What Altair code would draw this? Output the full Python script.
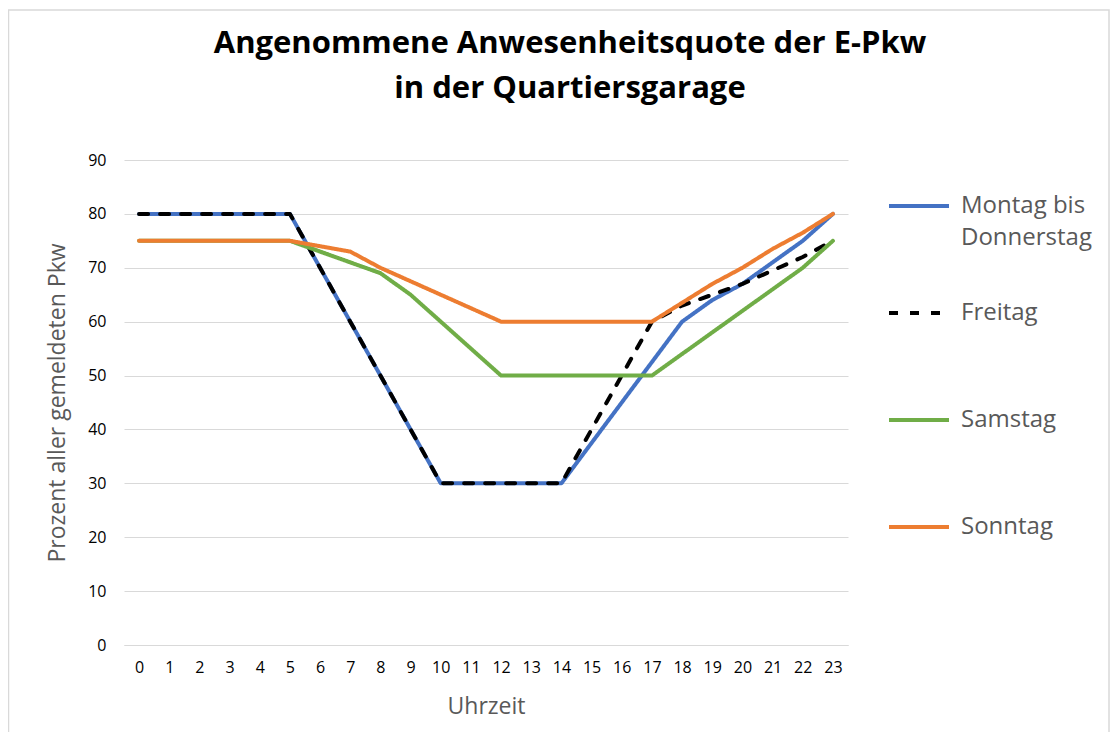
import altair as alt
import pandas as pd

hours = list(range(24))
series_names = ["Montag bis Donnerstag", "Freitag", "Samstag", "Sonntag"]
montag = [80, 80, 80, 80, 80, 80, 70, 60, 50, 40, 30, 30, 30, 30, 30, 37.5, 45, 52.5, 60, 64, 67, 71, 75, 80]
freitag = [80, 80, 80, 80, 80, 80, 70, 60, 50, 40, 30, 30, 30, 30, 30, 40, 50, 60, 63, 65, 67, 69.5, 72, 75]
samstag = [75, 75, 75, 75, 75, 75, 73, 71, 69, 65, 60, 55, 50, 50, 50, 50, 50, 50, 54, 58, 62, 66, 70, 75]
sonntag = [75, 75, 75, 75, 75, 75, 74, 73, 70, 67.5, 65, 62.5, 60, 60, 60, 60, 60, 60, 63.5, 67, 70, 73.5, 76.5, 80]
y_ticks = [0, 10, 20, 30, 40, 50, 60, 70, 80, 90]

colors = ["#4472C4", "#000000", "#70AD47", "#ED7D31"]
dashes = [[1, 0], [9, 12], [1, 0], [1, 0]]

rows = []
for name, vals in zip(series_names, [montag, freitag, samstag, sonntag]):
    for h, v in zip(hours, vals):
        rows.append({"Stunde": h, "Wert": v, "Serie": name, "ord": series_names.index(name)})
df = pd.DataFrame(rows)

FONT = "Open Sans"

lines = alt.Chart(df).mark_line(strokeWidth=4, strokeCap="round", strokeJoin="round").encode(
    x=alt.X("Stunde:Q",
            scale=alt.Scale(domain=[-0.5, 23.5], nice=False, zero=False),
            axis=alt.Axis(values=hours, title="Uhrzeit", grid=False, ticks=False,
                          domain=True, domainColor="#D9D9D9", domainWidth=1,
                          labelFontSize=16, labelColor="#000000", labelPadding=14,
                          labelFont=FONT, titleFont=FONT, titleFontSize=23,
                          titleFontWeight="normal", titleColor="#595959", titlePadding=20,
                          labelFlush=False)),
    y=alt.Y("Wert:Q",
            scale=alt.Scale(domain=[0, 90], nice=False),
            axis=alt.Axis(values=y_ticks, title="Prozent aller gemeldeten Pkw", grid=True,
                          gridColor="#D9D9D9", gridWidth=1, ticks=False, domain=False,
                          labelFontSize=16, labelColor="#000000", labelPadding=18,
                          labelFont=FONT, titleFont=FONT, titleFontSize=23,
                          titleFontWeight="normal", titleColor="#595959", titlePadding=18)),
    color=alt.Color("Serie:N",
                    scale=alt.Scale(domain=series_names, range=colors),
                    legend=alt.Legend(title=None, orient="none", legendX=763, legendY=14,
                                      symbolType="stroke", symbolSize=3600, symbolStrokeWidth=4,
                                      labelFont=FONT, labelFontSize=24, labelColor="#595959",
                                      labelOffset=10, rowPadding=31, labelLimit=300,
                                      labelBaseline="middle", gridAlign="all",
                                      labelExpr="datum.label == 'Montag bis Donnerstag' ? ['Montag bis', 'Donnerstag'] : datum.label")),
    strokeDash=alt.StrokeDash("Serie:N",
                              scale=alt.Scale(domain=series_names, range=dashes),
                              legend=alt.Legend(title=None, orient="none", legendX=763, legendY=14)),
    order=alt.Order("ord:Q"),
    detail="Serie:N",
)

border = alt.Chart(pd.DataFrame({"a": [0]})).mark_rect(
    fillOpacity=0, stroke="#D9D9D9", strokeWidth=1.5
).encode(
    x=alt.value(-115.5), x2=alt.value(985), y=alt.value(-150), y2=alt.value(575)
)

chart = alt.layer(border, lines).properties(
    width=724,
    height=485,
    title=alt.TitleParams(
        text=["Angenommene Anwesenheitsquote der E-Pkw", "in der Quartiersgarage"],
        font=FONT, fontSize=31, fontWeight="bold", color="#000000",
        anchor="middle", frame="group", dx=84, offset=-96, lineHeight=45,
    ),
    autosize=alt.AutoSizeParams(type="none"),
    padding={"left": 116, "top": 152, "right": 262, "bottom": 87},
).configure(
    background="#FFFFFF",
    style={"guide-label": {"lineHeight": 32}},
).configure_view(strokeWidth=0)

chart.save("out.html", embed_options={"renderer": "svg", "actions": False})
